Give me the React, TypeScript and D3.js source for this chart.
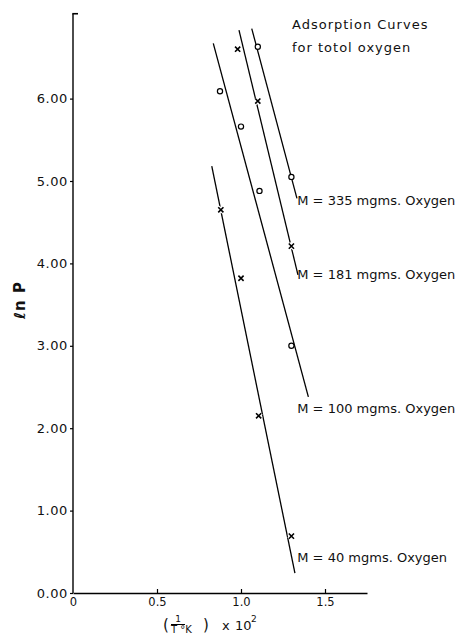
import React, { useRef, useEffect } from "react";
import * as d3 from "d3";

// tick labels as printed on the original plot
const yTicks = [0, 1, 2, 3, 4, 5, 6];
const yTickLabels = ["0.00", "1.00", "2.00", "3.00", "4.00", "5.00", "6.00"];
const xTicks = [0, 0.5, 1.0, 1.5];
const xTickLabels = ["0", "0.5", "1.0", "1.5"];

// measured points, x = 1/T (x 10^2), y = ln P
const m335X = [1.1, 1.3];
const m335Y = [6.63, 5.05];
const m181X = [0.98, 1.1, 1.3];
const m181Y = [6.6, 5.97, 4.21];
const m100X = [0.875, 1.0, 1.11, 1.3];
const m100Y = [6.09, 5.66, 4.88, 3.0];
const m40X = [0.88, 1.0, 1.105, 1.3];
const m40Y = [4.65, 3.82, 2.15, 0.69];

// hand drawn fitted lines: [x start, x end], [y start, y end]
const m335LineX = [1.064, 1.333];
const m335LineY = [6.85, 4.79];
const m181LineX = [0.988, 1.339];
const m181LineY = [6.83, 3.86];
const m100LineX = [0.835, 1.401];
const m100LineY = [6.67, 2.38];
const m40LineX = [0.826, 1.321];
const m40LineY = [5.18, 0.24];

const seriesNames = [
  "M = 335 mgms. Oxygen",
  "M = 181 mgms. Oxygen",
  "M = 100 mgms. Oxygen",
  "M = 40 mgms. Oxygen",
];
const seriesMarkers = ["circle", "cross", "circle", "cross"];
// where each label sits on the ln P scale
const labelLnP = [4.76, 3.86, 2.245, 0.437];

const FONT = "'DejaVu Sans', sans-serif";

const App = () => {
  const ref = useRef<SVGSVGElement>(null);

  useEffect(() => {
    if (!ref.current) return;
    const svg = d3.select(ref.current);
    svg.selectAll("*").remove();

    const x = d3.scaleLinear().domain([0, 1.75]).range([73, 367]);
    const y = d3.scaleLinear().domain([0, 7]).range([593, 16.2]);

    // y axis
    const yAxis = svg
      .append("g")
      .attr("transform", "translate(" + x(0) + ",0)")
      .call(
        d3
          .axisLeft(y)
          .tickValues(yTicks)
          .tickFormat((d, i) => yTickLabels[i])
          .tickSizeInner(3)
          .tickSizeOuter(0)
          .tickPadding(2)
      );
    yAxis.select(".domain").remove();
    yAxis
      .append("line")
      .attr("x1", 0)
      .attr("x2", 0)
      .attr("y1", y(0))
      .attr("y2", y(7.03))
      .attr("stroke", "#000")
      .attr("stroke-width", 1.4);
    // little cap at the top of the axis
    yAxis
      .append("line")
      .attr("x1", -0.7)
      .attr("x2", 5)
      .attr("y1", y(7.03))
      .attr("y2", y(7.03))
      .attr("stroke", "#000")
      .attr("stroke-width", 1.6);
    yAxis
      .selectAll(".tick text")
      .attr("font-family", FONT)
      .attr("font-size", 13)
      .attr("letter-spacing", 0.6)
      .attr("fill", "#111");
    yAxis.selectAll(".tick line").attr("stroke-width", 1.2);

    // x axis, ticks pointing inward
    const xAxis = svg
      .append("g")
      .attr("transform", "translate(0," + y(0) + ")")
      .call(
        d3
          .axisBottom(x)
          .tickValues(xTicks)
          .tickFormat((d, i) => xTickLabels[i])
          .tickSizeInner(-4)
          .tickSizeOuter(0)
          .tickPadding(5)
      );
    xAxis.select(".domain").attr("stroke-width", 1.4);
    xAxis
      .selectAll(".tick text")
      .attr("font-family", FONT)
      .attr("font-size", 11.5)
      .attr("fill", "#111");
    xAxis.selectAll(".tick line").attr("stroke-width", 1.2);
    xAxis.select(".tick line").remove();

    const series = [
      { px: m335X, py: m335Y, lx: m335LineX, ly: m335LineY },
      { px: m181X, py: m181Y, lx: m181LineX, ly: m181LineY },
      { px: m100X, py: m100Y, lx: m100LineX, ly: m100LineY },
      { px: m40X, py: m40Y, lx: m40LineX, ly: m40LineY },
    ];

    const line = d3
      .line<number>()
      .x((d) => x(d[0]))
      .y((d) => y(d[1]));

    series.forEach((s, i) => {
      const g = svg.append("g");
      g.append("path")
        .attr("d", line(s.lx.map((v, j) => [v, s.ly[j]]) as any))
        .attr("fill", "none")
        .attr("stroke", "#000")
        .attr("stroke-width", 1.3);

      const pts = s.px.map((v, j) => [v, s.py[j]]);
      if (seriesMarkers[i] === "circle") {
        g.selectAll("circle")
          .data(pts)
          .enter()
          .append("circle")
          .attr("cx", (d) => x(d[0]))
          .attr("cy", (d) => y(d[1]))
          .attr("r", 2.6)
          .attr("fill", "#fff")
          .attr("stroke", "#000")
          .attr("stroke-width", 1.2);
      } else {
        const cross = (d: number[]) => {
          const cx = x(d[0]);
          const cy = y(d[1]);
          const r = 2.6;
          return (
            "M" + (cx - r) + "," + (cy - r) + "L" + (cx + r) + "," + (cy + r) +
            "M" + (cx + r) + "," + (cy - r) + "L" + (cx - r) + "," + (cy + r)
          );
        };
        g.selectAll("path.halo")
          .data(pts)
          .enter()
          .append("path")
          .attr("class", "halo")
          .attr("d", cross)
          .attr("stroke", "#fff")
          .attr("stroke-width", 4);
        g.selectAll("path.mark")
          .data(pts)
          .enter()
          .append("path")
          .attr("class", "mark")
          .attr("d", cross)
          .attr("stroke", "#000")
          .attr("stroke-width", 1.6);
      }

      g.append("text")
        .attr("x", x(1.335))
        .attr("y", y(labelLnP[i]))
        .attr("dy", "0.35em")
        .attr("font-family", FONT)
        .attr("font-size", 13)
        .attr("fill", "#111")
        .text(seriesNames[i]);
    });

    // title
    const title = svg
      .append("text")
      .attr("font-family", FONT)
      .attr("font-size", 13)
      .attr("letter-spacing", 1)
      .attr("fill", "#111");
    title.append("tspan").attr("x", 292).attr("y", 28.5).text("Adsorption Curves");
    title.append("tspan").attr("x", 292).attr("y", 51.5).text("for totol oxygen");

    // y axis title
    svg
      .append("text")
      .attr("transform", "translate(25,300) rotate(-90)")
      .attr("text-anchor", "middle")
      .attr("font-family", FONT)
      .attr("font-size", 15)
      .attr("font-weight", "bold")
      .attr("letter-spacing", 1)
      .attr("fill", "#111")
      .text("\u2113n P");

    // x axis title: (1 / T°K) x 10²
    const xt = svg.append("g").attr("font-family", FONT).attr("fill", "#111");
    xt.append("text").attr("x", 163).attr("y", 630).attr("font-size", 15).text("(");
    xt.append("text")
      .attr("x", 178)
      .attr("y", 622)
      .attr("text-anchor", "middle")
      .attr("font-size", 9)
      .text("1");
    xt.append("line")
      .attr("x1", 171)
      .attr("x2", 185)
      .attr("y1", 624.5)
      .attr("y2", 624.5)
      .attr("stroke", "#000")
      .attr("stroke-width", 1);
    xt.append("text").attr("x", 171).attr("y", 633).attr("font-size", 10).text("T °K");
    xt.append("text").attr("x", 203).attr("y", 630).attr("font-size", 15).text(")");
    xt.append("text").attr("x", 222).attr("y", 630).attr("font-size", 13).text("x");
    xt.append("text").attr("x", 235).attr("y", 630).attr("font-size", 13).text("10");
    xt.append("text").attr("x", 251).attr("y", 622).attr("font-size", 9).text("2");
  }, []);

  return (
    <svg
      ref={ref}
      width={460}
      height={636}
      style={{ position: "absolute", left: 0, top: 0, background: "#fff" }}
    />
  );
};

export default App;
